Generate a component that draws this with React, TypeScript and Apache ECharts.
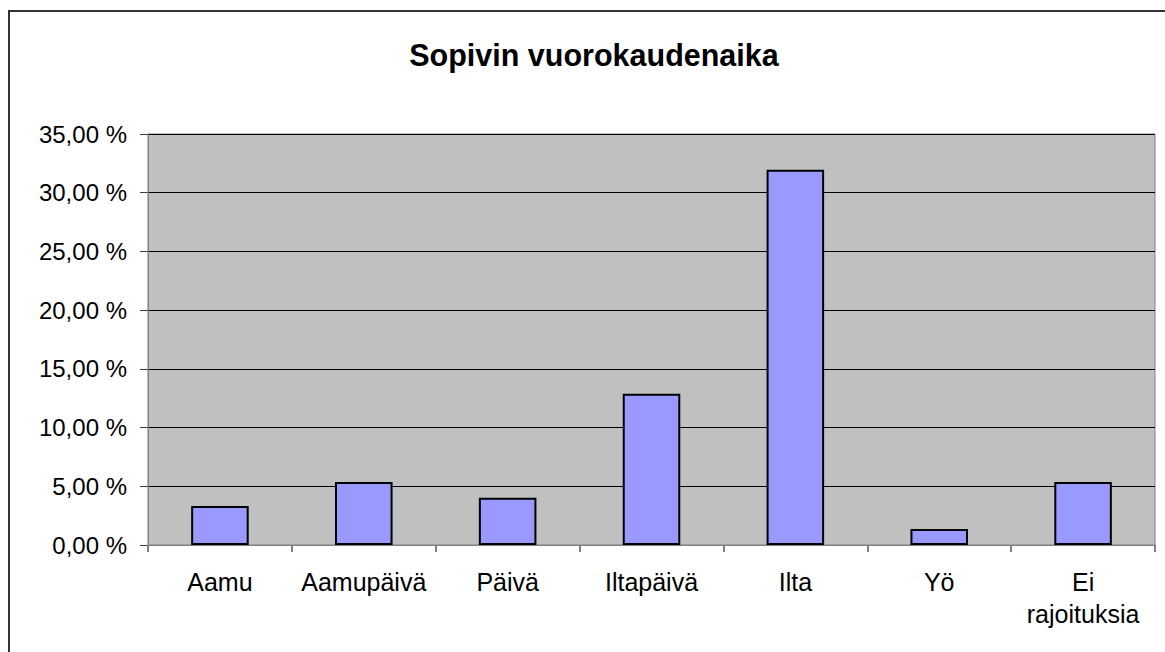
import React, { useEffect, useRef } from "react";
import * as echarts from "echarts";

const categories = ["Aamu", "Aamupäivä", "Päivä", "Iltapäivä", "Ilta", "Yö", "Ei\nrajoituksia"];
const values = [3.33, 5.36, 4.02, 12.88, 31.95, 1.36, 5.36];
const yTicks = { min: 0, max: 35, interval: 5 };
const titleText = "Sopivin vuorokaudenaika";

const FONT = "'Liberation Sans', Arial, sans-serif";

export default function App() {
  const ref = useRef<HTMLDivElement>(null);
  useEffect(() => {
    if (!ref.current) return;
    const chart = echarts.init(ref.current, undefined, { renderer: "svg" });
    chart.setOption({
      animation: false,
      backgroundColor: "#ffffff",
      textStyle: { fontFamily: FONT },
      title: {
        text: titleText,
        left: 589,
        top: 34,
        textAlign: "center",
        textStyle: { fontFamily: FONT, fontSize: 30.5, fontWeight: "bold", color: "#000" },
      },
      graphic: [
        {
          type: "rect",
          shape: { x: 9, y: 11, width: 1300, height: 800 },
          style: { fill: "none", stroke: "#333333", lineWidth: 2 },
          silent: true,
          z: 100,
        },
      ],
      grid: {
        left: 148,
        top: 134,
        right: 10,
        bottom: 107,
        show: true,
        backgroundColor: "#c0c0c0",
        borderColor: "#808080",
        borderWidth: 1,
      },
      xAxis: {
        type: "category",
        data: categories,
        axisLine: { show: true, lineStyle: { color: "#808080", width: 1 } },
        axisTick: { show: true, length: 7, lineStyle: { color: "#808080", width: 2 } },
        axisLabel: {
          fontFamily: FONT,
          fontSize: 25,
          color: "#000",
          margin: 21,
          lineHeight: 32,
          interval: 0,
        },
      },
      yAxis: {
        type: "value",
        min: yTicks.min,
        max: yTicks.max,
        interval: yTicks.interval,
        axisLine: { show: true, lineStyle: { color: "#808080", width: 1 } },
        axisTick: { show: true, length: 8, lineStyle: { color: "#404040", width: 1 } },
        axisLabel: {
          fontFamily: FONT,
          fontSize: 24,
          color: "#000",
          margin: 21,
          formatter: (v: number) => v.toFixed(2).replace(".", ",") + " %",
        },
        splitLine: { show: true, lineStyle: { color: "#000", width: 1 } },
      },
      series: [
        {
          type: "bar",
          data: values,
          barWidth: "40%",
          itemStyle: { color: "#9999ff", borderColor: "#000", borderWidth: 2 },
        },
      ],
    });
    return () => chart.dispose();
  }, []);
  return (
    <div
      ref={ref}
      style={{ position: "absolute", left: 0, top: 0, width: 1165, height: 652 }}
    />
  );
}
